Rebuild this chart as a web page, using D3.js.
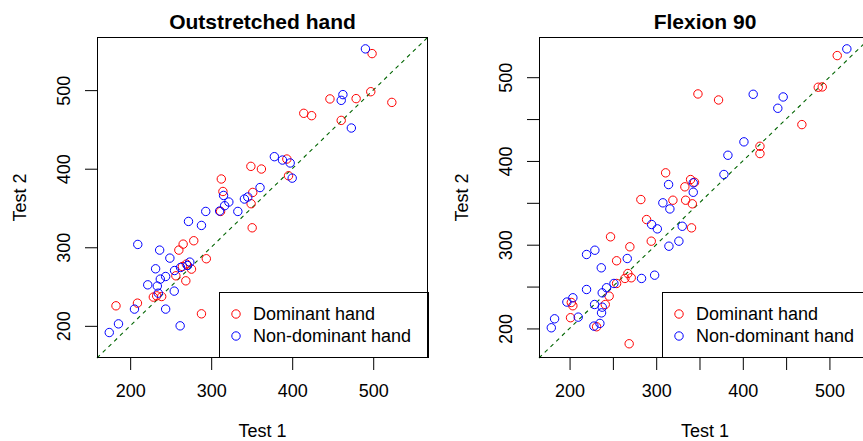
<!DOCTYPE html>
<meta charset="utf-8">
<style>
body { margin: 0; background: #fff; }
svg { font-family: "Liberation Sans", Arial, Helvetica, sans-serif; }
</style>
<svg width="863" height="441"></svg>
<script src="https://cdn.jsdelivr.net/npm/d3@7"></script>
<script>

// ---- data ----
var legendLabels = ["Dominant hand", "Non-dominant hand"];

// Outstretched hand
var outDomX = [498.6, 497, 478.9, 446.6, 523, 414.3, 424, 460.5, 393.4, 349, 362, 395.5, 312.5, 314.5, 351.3, 349.3, 311.6,
               350.6, 278.5, 265.4, 260.1, 294, 264.5, 269.4, 275.7, 256.4, 268.7, 238.9, 228.6, 232.7, 209, 182.5, 288];
var outDomY = [546.5, 498, 489.2, 488.8, 484.4, 470.5, 467.5, 461.5, 412.3, 403, 399.6, 391, 386.9, 371, 369.8, 355.4, 345.6,
               324.8, 308.3, 304, 296.4, 285.4, 275.5, 278.6, 272.2, 263.7, 257.3, 237.3, 236.6, 238.2, 228.9, 225.5, 215.3];
var outNonX = [490.4, 462.6, 460.5, 473, 378, 388, 397.5, 400, 360.3, 315.3, 316.6, 321.8, 310.4, 332.9, 341, 345.2, 293.3,
               272, 288, 209.4, 236.4, 249, 231.4, 254.8, 273.6, 270.8, 262.2, 243.8, 237.2, 221.7, 233.5, 234.7, 254.4,
               205.3, 243.8, 185.6, 174.2, 261.7];
var outNonY = [552.5, 494.3, 487, 451.8, 415.3, 411, 407.3, 388, 376, 366, 352.9, 357.6, 346.1, 345.6, 361.4, 364, 345.6,
               332.9, 327.8, 303.6, 296.4, 286.2, 272.6, 270.4, 281.1, 276.8, 274.3, 262.8, 259.5, 252.2, 250.6, 241.6, 244.2,
               221.3, 221.3, 202.5, 191.5, 200];
var outTicks = [200, 300, 400, 500];
var outLabels = [200, 300, 400, 500];

// Flexion 90
var flxDomX = [348.2, 310.9, 339.7, 344.3, 333.1, 509, 487.1, 491.7, 372, 468.2, 419.8, 419.8, 341.7, 340.8, 282.3, 319.3, 334,
               288.9, 247.3, 294.3, 269.6, 254.3, 267.3, 263.9, 271.2, 254.3, 245.7, 241.2, 202, 203.8, 201.1, 231.2, 268.8];
var flxDomY = [480, 385.8, 377.8, 374.6, 369.1, 525.8, 488, 488.4, 472.8, 443.4, 417.5, 408.8, 348.8, 320.1, 353.9, 353.1, 353.1,
               330, 309.4, 304.2, 297.5, 280.8, 265.6, 259.7, 260.5, 253.7, 238.6, 228.6, 231, 227.1, 212.8, 202, 181.7];
var flxNonX = [314.3, 342.8, 520.1, 412, 446.6, 440.4, 401.3, 382.8, 378.2, 342.8, 307.7, 315.8, 294.7, 301.3, 330.1, 326.2, 314.7,
               219.6, 229.2, 266.6, 236.6, 283.1, 298.2, 251.2, 242.7, 219.6, 237.7, 228.9, 237.7, 236.9, 196.9, 203.8, 210,
               182.7, 178.9, 228.1, 235];
var flxNonY = [371.8, 373.9, 533.8, 479.6, 476.4, 462.9, 422.8, 406.8, 383.8, 362.6, 350, 342.7, 324.1, 318.9, 322, 304.2, 298.2,
               288.3, 293.4, 283.5, 272.4, 259.7, 263.6, 253.7, 248.6, 246.5, 242.5, 228.6, 225.4, 218.6, 231.5, 236.6, 213.5,
               211.5, 200.8, 202.8, 206];
var flxTicks = [200, 250, 300, 350, 400, 450, 500];
var flxLabels = [200, 300, 400, 500];

var svg = d3.select("svg");

function zip(xs, ys) { return xs.map(function(x, i) { return [x, ys[i]]; }); }

function panel(opt) {
  var dom = zip(opt.domX, opt.domY), non = zip(opt.nonX, opt.nonY);
  // same limits on both axes, R style: range of everything padded by 4%
  var ext = d3.extent(opt.domX.concat(opt.domY, opt.nonX, opt.nonY));
  var pad = (ext[1] - ext[0]) * 0.04;
  var lim = [ext[0] - pad, ext[1] + pad];

  var x = d3.scaleLinear().domain(lim).range([opt.left, opt.right]);
  var y = d3.scaleLinear().domain(lim).range([opt.bottom, opt.top]);

  var g = svg.append("g");

  // y = x reference line
  g.append("line")
    .attr("x1", x(lim[0])).attr("y1", y(lim[0]))
    .attr("x2", x(lim[1])).attr("y2", y(lim[1]))
    .attr("stroke", "#006400").attr("stroke-width", 1.1)
    .attr("stroke-dasharray", "4,4");

  g.selectAll("circle.dom").data(dom).enter().append("circle")
    .attr("class", "dom")
    .attr("cx", function(d) { return x(d[0]); })
    .attr("cy", function(d) { return y(d[1]); })
    .attr("r", 4.2).attr("fill", "none").attr("stroke", "#ff0000").attr("stroke-width", 1);

  g.selectAll("circle.non").data(non).enter().append("circle")
    .attr("class", "non")
    .attr("cx", function(d) { return x(d[0]); })
    .attr("cy", function(d) { return y(d[1]); })
    .attr("r", 4.2).attr("fill", "none").attr("stroke", "#0000ff").attr("stroke-width", 1);

  // axes
  var xAxis = d3.axisBottom(x).tickValues(opt.ticks).tickSize(12).tickPadding(8)
    .tickFormat(function(d) { return opt.labels.indexOf(d) >= 0 ? d : ""; });
  var yAxis = d3.axisLeft(y).tickValues(opt.ticks).tickSize(12).tickPadding(8)
    .tickFormat(function(d) { return opt.labels.indexOf(d) >= 0 ? d : ""; });

  var gx = g.append("g").attr("transform", "translate(0," + opt.bottom + ")").call(xAxis);
  var gy = g.append("g").attr("transform", "translate(" + opt.left + ",0)").call(yAxis);
  [gx, gy].forEach(function(a) {
    a.select(".domain").remove();
    a.selectAll("line").attr("stroke", "#000");
    a.selectAll("text").attr("font-size", 18).attr("fill", "#000").attr("font-family", null);
  });
  gx.selectAll("text").attr("y", 33).attr("dy", "0.35em");
  gy.selectAll("text")
    .attr("x", null).attr("dy", "0.35em")
    .attr("text-anchor", "middle")
    .attr("transform", "translate(-33,0) rotate(-90)");

  // box
  g.append("rect")
    .attr("x", opt.left + 0.5).attr("y", opt.top + 0.5)
    .attr("width", opt.right - opt.left - 1).attr("height", opt.bottom - opt.top - 1)
    .attr("fill", "none").attr("stroke", "#000").attr("stroke-width", 1);

  // titles
  var cx = (opt.left + opt.right) / 2, cy = (opt.top + opt.bottom) / 2;
  g.append("text").attr("x", cx).attr("y", 29)
    .attr("text-anchor", "middle").attr("font-size", 21).attr("font-weight", "bold")
    .text(opt.title);
  g.append("text").attr("x", cx).attr("y", opt.bottom + 73).attr("dy", "0.35em")
    .attr("text-anchor", "middle").attr("font-size", 18).text("Test 1");
  g.append("text")
    .attr("transform", "translate(" + (opt.left - 77) + "," + cy + ") rotate(-90)")
    .attr("dy", "0.35em").attr("text-anchor", "middle").attr("font-size", 18).text("Test 2");

  // legend, bottom right
  var lw = 209, lh = 66;
  var lg = g.append("g").attr("transform", "translate(" + (opt.right - lw) + "," + (opt.bottom - lh) + ")");
  lg.append("rect").attr("x", 0.5).attr("y", 0.5).attr("width", lw).attr("height", lh - 1)
    .attr("fill", "none").attr("stroke", "#000");
  var items = lg.selectAll("g.item").data(legendLabels).enter().append("g")
    .attr("class", "item")
    .attr("transform", function(d, i) { return "translate(0," + (22 + i * 22) + ")"; });
  items.append("circle").attr("cx", 17).attr("r", 4.2).attr("fill", "none")
    .attr("stroke", function(d, i) { return i == 0 ? "#ff0000" : "#0000ff"; });
  items.append("text").attr("x", 34).attr("dy", "0.35em").attr("font-size", 18)
    .text(function(d) { return d; });
}

panel({ title: "Outstretched hand", domX: outDomX, domY: outDomY, nonX: outNonX, nonY: outNonY,
        ticks: outTicks, labels: outLabels, left: 97, right: 428, top: 37, bottom: 358 });
panel({ title: "Flexion 90", domX: flxDomX, domY: flxDomY, nonX: flxNonX, nonY: flxNonY,
        ticks: flxTicks, labels: flxLabels, left: 539, right: 871, top: 37, bottom: 358 });

</script>
